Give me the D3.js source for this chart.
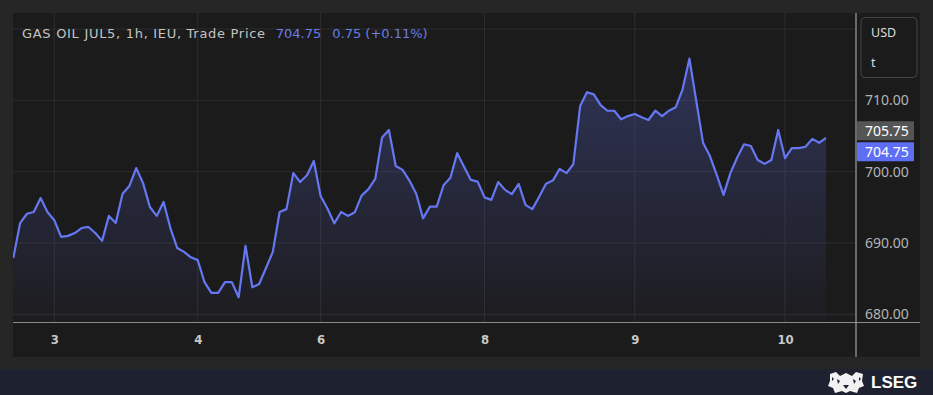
<!DOCTYPE html>
<html>
<head>
<meta charset="utf-8">
<script src="https://cdn.jsdelivr.net/npm/d3@7"></script>
<style>
  html, body { margin: 0; padding: 0; background: #262626; }
  svg { display: block; }
</style>
</head>
<body>
<svg width="933" height="395"></svg>
<script>
// hourly trade prices, GAS OIL JUL5
var prices = [
  687.9, 692.8, 694.1, 694.35, 696.3, 694.35, 693.2, 690.85, 691.0, 691.4,
  692.1, 692.25, 691.4, 690.3, 693.8, 692.8, 696.9, 698.0, 700.5, 698.4,
  695.05, 693.8, 695.75, 692.1, 689.3, 688.75, 688.0, 687.6, 684.5, 683.0,
  683.0, 684.5, 684.5, 682.4, 689.6, 683.8, 684.25, 686.5, 688.75, 694.35,
  694.75, 699.8, 698.55, 699.5, 701.5, 696.6, 694.85, 692.75, 694.35, 693.8,
  694.3, 696.65, 697.55, 699.0, 704.8, 705.85, 700.8, 700.25, 698.75, 696.9,
  693.45, 695.1, 695.1, 698.1, 699.15, 702.6, 700.7, 698.85, 698.6, 696.4,
  696.05, 698.55, 697.45, 696.85, 698.3, 695.35, 694.75, 696.5, 698.3, 698.75,
  700.4, 699.8, 701.05, 709.2, 711.15, 710.85, 709.35, 708.55, 708.55, 707.35,
  707.8, 708.1, 707.65, 707.25, 708.55, 707.8, 708.55, 709.05, 711.55, 715.85,
  709.95, 704.05, 702.2, 699.55, 696.75, 699.8, 702.0, 703.85, 703.6, 701.65,
  701.1, 701.65, 705.85, 701.9, 703.3, 703.3, 703.5, 704.6, 704.05, 704.75
];

var dayTickIndex = [6, 27, 45, 69, 91, 113];
var dayTickLabels = ["3", "4", "6", "8", "9", "10"];
var priceTicks = [680, 690, 700, 710, 720];

var lastPrice = 704.75;
var markPrice = 705.75;

var svg = d3.select("svg");

var plotLeft = 13, plotRight = 856, plotTop = 13, axisY = 322.5;

// panels
svg.append("rect").attr("x", 13).attr("y", 13).attr("width", 907).attr("height", 344)
  .attr("fill", "#1b1b1b");
svg.append("rect").attr("x", 0).attr("y", 369).attr("width", 933).attr("height", 26)
  .attr("fill", "#1e2230");

var x = d3.scaleLinear().domain([0, prices.length - 1]).range([13.3, 826]);
var y = d3.scaleLinear().domain([680, 710]).range([314.3, 100.4]);

var defs = svg.append("defs");
defs.append("clipPath").attr("id", "plotclip")
  .append("rect").attr("x", plotLeft).attr("y", plotTop)
  .attr("width", plotRight - plotLeft).attr("height", axisY - plotTop);

var grad = defs.append("linearGradient").attr("id", "areagrad")
  .attr("x1", 0).attr("y1", 0).attr("x2", 0).attr("y2", 1);
grad.append("stop").attr("offset", "0%").attr("stop-color", "#6272f0").attr("stop-opacity", 0.28);
grad.append("stop").attr("offset", "100%").attr("stop-color", "#6272f0").attr("stop-opacity", 0.02);

// grid
var grid = svg.append("g").attr("clip-path", "url(#plotclip)");
grid.selectAll("line.h")
  .data(priceTicks)
  .enter().append("line")
  .attr("class", "h")
  .attr("x1", plotLeft).attr("x2", plotRight)
  .attr("y1", d => y(d)).attr("y2", d => y(d))
  .attr("stroke", "#2d2d2d").attr("stroke-width", 1);
grid.selectAll("line.v")
  .data(dayTickIndex)
  .enter().append("line")
  .attr("class", "v")
  .attr("x1", d => x(d)).attr("x2", d => x(d))
  .attr("y1", plotTop).attr("y2", axisY)
  .attr("stroke", "#2d2d2d").attr("stroke-width", 1);

// area + line
var plot = svg.append("g").attr("clip-path", "url(#plotclip)");
var area = d3.area()
  .x((d, i) => x(i))
  .y0(axisY)
  .y1(d => y(d));
var line = d3.line()
  .x((d, i) => x(i))
  .y(d => y(d));

plot.append("path").datum(prices)
  .attr("d", area)
  .attr("fill", "url(#areagrad)");
plot.append("path").datum(prices)
  .attr("d", line)
  .attr("fill", "none")
  .attr("stroke", "#6677f2")
  .attr("stroke-width", 2.2)
  .attr("stroke-linejoin", "round");

// axis lines
svg.append("line").attr("x1", 13).attr("x2", 920).attr("y1", axisY).attr("y2", axisY)
  .attr("stroke", "#8a8a8a").attr("stroke-width", 1.2);
svg.append("line").attr("x1", plotRight).attr("x2", plotRight).attr("y1", 13).attr("y2", 357)
  .attr("stroke", "#b8b8b8").attr("stroke-width", 1);

// x axis (day labels)
var xAxis = d3.axisBottom(x)
  .tickValues(dayTickIndex)
  .tickFormat((d, i) => dayTickLabels[i])
  .tickSize(0)
  .tickPadding(0);
var gx = svg.append("g").attr("transform", "translate(0," + 339 + ")").call(xAxis);
gx.select(".domain").remove();
gx.selectAll("text")
  .attr("dy", "0.35em")
  .attr("y", 0)
  .attr("fill", "#c8c8c8")
  .style("font-family", "'DejaVu Sans Condensed', 'DejaVu Sans', sans-serif")
  .style("font-size", "13px")
  .style("font-weight", "bold");

// y axis (price labels)
var yAxis = d3.axisRight(y)
  .tickValues(priceTicks.filter(d => d <= 710))
  .tickFormat(d3.format(".2f"))
  .tickSize(0)
  .tickPadding(0);
var gy = svg.append("g").attr("transform", "translate(865,0)").call(yAxis);
gy.select(".domain").remove();
gy.selectAll("text")
  .attr("x", 0)
  .attr("fill", "#b4b4b4")
  .style("font-family", "'Noto Sans', sans-serif")
  .style("font-size", "14px");

// price markers
function marker(v, cy, fill) {
  svg.append("rect").attr("x", 857).attr("y", cy - 9.5).attr("width", 57).attr("height", 19)
    .attr("rx", 1).attr("fill", fill);
  svg.append("text").attr("x", 865).attr("y", cy).attr("dy", "0.35em")
    .attr("fill", "#ffffff")
    .style("font-family", "'Noto Sans', sans-serif")
    .style("font-size", "14px")
    .text(d3.format(".2f")(v));
}
marker(markPrice, y(markPrice), "#555555");
marker(lastPrice, y(lastPrice) + 13.8, "#5f6ff5");

// currency box
svg.append("rect").attr("x", 861).attr("y", 17.5).attr("width", 56).attr("height", 60)
  .attr("rx", 4).attr("fill", "#1b1b1b").attr("stroke", "#454545");
svg.append("text").attr("x", 871).attr("y", 33).attr("dy", "0.35em")
  .attr("fill", "#dddddd").style("font-family", "'Noto Sans', sans-serif").style("font-size", "12.5px")
  .text("USD");
svg.append("text").attr("x", 871).attr("y", 63).attr("dy", "0.35em")
  .attr("fill", "#dddddd").style("font-family", "'Noto Sans', sans-serif").style("font-size", "12.5px")
  .text("t");

// title
var title = svg.append("text").attr("x", 22).attr("y", 33).attr("dy", "0.35em")
  .style("font-family", "'DejaVu Sans', sans-serif").style("font-size", "13px");
title.append("tspan").attr("fill", "#c4c4c4").style("letter-spacing", "0.7px")
  .text("GAS OIL JUL5, 1h, IEU, Trade Price");
title.append("tspan").attr("fill", "#6a7de8").attr("dx", 10).text(d3.format(".2f")(lastPrice));
title.append("tspan").attr("fill", "#6a7de8").attr("dx", 11).text("0.75 (+0.11%)");

// footer logo
var logo = svg.append("g").attr("transform", "translate(828,372)");
logo.append("path")
  .attr("d", "M2,2 L8,0 L12,4 L18,1 L24,4 L28,0 L35,2 L34,9 L36,14 L31,16 L29,21 L22,19 L18,21 L14,19 L7,21 L5,16 L0,14 L2,9 Z")
  .attr("fill", "#f2f2f2");
logo.append("path")
  .attr("d", "M9,7 L12,9 L10,12 Z M25,7 L28,9 L26,12 Z M15,13 L21,13 L18,17 Z M4,5 L6,7 L4,9 Z M31,5 L33,7 L31,9 Z")
  .attr("fill", "#1e2230");
svg.append("text").attr("x", 871).attr("y", 382).attr("dy", "0.35em")
  .attr("fill", "#ffffff")
  .style("font-family", "'Liberation Sans', sans-serif")
  .style("font-size", "17px")
  .style("font-weight", "bold")
  .text("LSEG");
</script>
</body>
</html>
